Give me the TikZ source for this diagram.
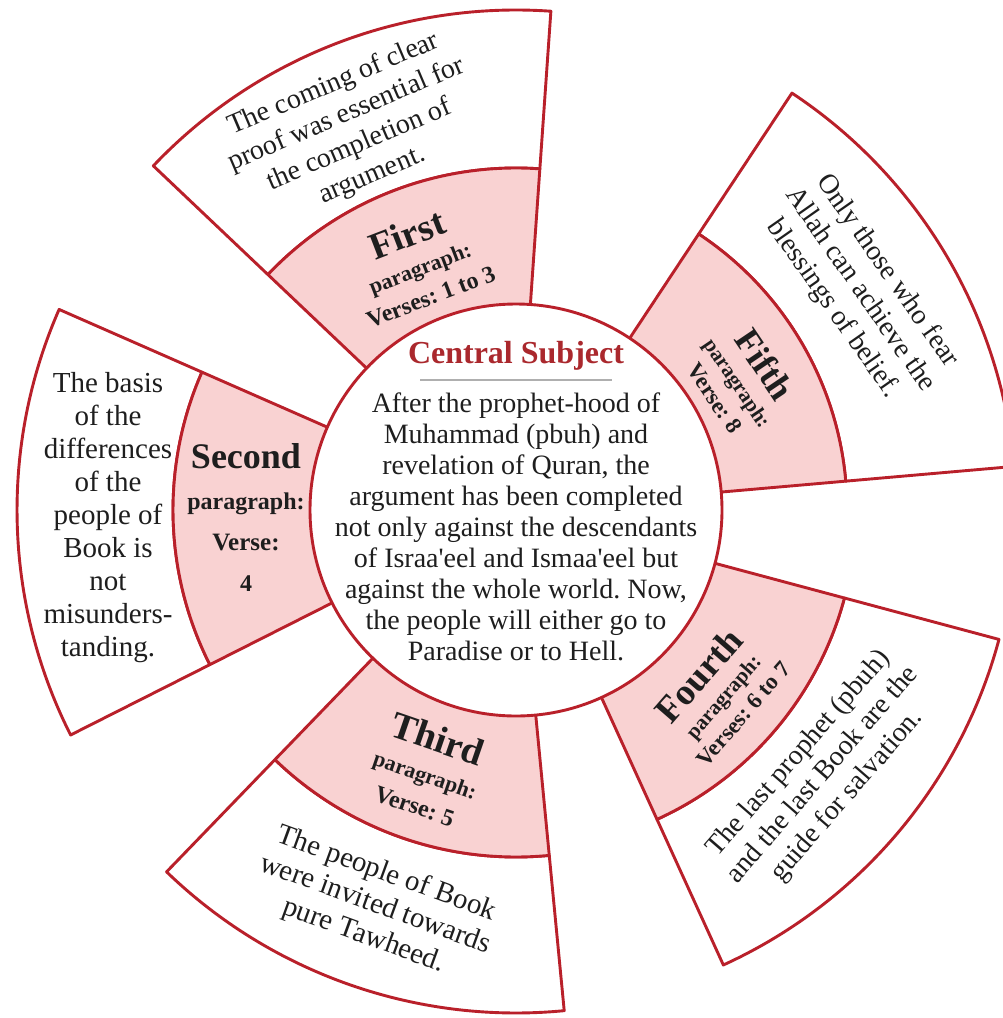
\documentclass[tikz,border=0pt]{standalone}
\usepackage{fontspec}
\setmainfont{Liberation Serif}
\newcommand\fsz[2]{\fontsize{#1}{#2}\selectfont}
\definecolor{lred}{RGB}{185,32,42}
\definecolor{pinkf}{RGB}{249,210,210}
\definecolor{tred}{RGB}{170,40,45}
\definecolor{txt}{RGB}{30,30,30}
\definecolor{rulegray}{RGB}{175,175,175}
\frenchspacing
\begin{document}
\begin{tikzpicture}[x=1pt,y=1pt,line join=round,
  secline/.style={draw=lred,line width=2.9pt},
  pinksec/.style={secline,fill=pinkf},
  whitesec/.style={secline,fill=white},
  outtxt/.style={align=center,text=txt,font=\fsz{28}{31},inner sep=0pt},
  lbltxt/.style={align=center,text=txt,inner sep=0pt},
]
\useasboundingbox (0,0) rectangle (1002,-1018);
\fill[white] (0,0) rectangle (1002,-1018);
\begin{scope}[shift={(516,-510)}]
\foreach \a/\b/\m/\o in {5/56.5/331/500, 86/136.5/342/500, 156.3/206.8/343/499, 226/275.5/347/503, 294.5/345/340/500}{
  \filldraw[whitesec] (\a:\m) -- (\a:\o) arc[start angle=\a,end angle=\b,radius=\o] -- (\b:\m) arc[start angle=\b,end angle=\a,radius=\m] -- cycle;
  \filldraw[pinksec] (\a:190) -- (\a:\m) arc[start angle=\a,end angle=\b,radius=\m] -- (\b:190) arc[start angle=\b,end angle=\a,radius=190] -- cycle;
}
\filldraw[whitesec] (0,0) circle[radius=206];
% central subject
\node[text=tred,font=\bfseries\fsz{32}{34},inner sep=0pt] (title) at (0,154) {Central Subject};
\draw[rulegray,line width=1.2pt] (-96,130) -- (96,130);
\node[outtxt] (body) at (0,-17) {After the prophet-hood of\\ Muhammad (pbuh) and\\ revelation of Quran, the\\ argument has been completed\\ not only against the descendants\\ of Israa\textquotesingle eel and Ismaa\textquotesingle eel but\\ against the whole world. Now,\\ the people will either go to\\ Paradise or to Hell.};
% pink labels
\node[lbltxt,rotate=21,font=\bfseries\fsz{22}{31}] (p1) at (-98,247) {{\fsz{38}{31}First}\\ paragraph:\\ {\fsz{24}{31}Verses: 1 to 3}};
\node[lbltxt,rotate=-56,font=\bfseries\fsz{21}{28}] (p5) at (226,130) {{\fsz{36}{28}Fifth}\\ paragraph:\\ {\fsz{23}{28}Verse: 8}};
\node[lbltxt,font=\bfseries\fsz{24}{41}] (p2) at (-270,-8) {{\fsz{36}{41}Second}\\ paragraph:\\ {\fsz{25}{41}Verse:}\\ 4};
\node[lbltxt,rotate=-19,font=\bfseries\fsz{22}{33}] (p3) at (-89,-260) {{\fsz{38}{33}Third}\\ paragraph:\\ {\fsz{24}{33}Verse: 5}};
\node[lbltxt,rotate=49,font=\bfseries\fsz{21}{27}] (p4) at (203,-183) {{\fsz{37}{27}Fourth}\\ paragraph:\\ {\fsz{23}{27}Verses: 6 to 7}};
% outer texts
\node[outtxt,rotate=23,font=\fsz{28}{33}] (o1) at (-163,380) {The coming of clear\\ proof was essential for\\ the completion of\\ argument.};
\node[outtxt,rotate=-55,font=\fsz{28}{33}] (o5) at (344,220) {Only those who fear\\ Allah can achieve the\\ blessings of belief.};
\node[outtxt,font=\fsz{29}{33}] (o2) at (-408,-8) {The basis\\ of the\\ differences\\ of the\\ people of\\ Book is\\ not\\ misunders-\\ tanding.};
\node[outtxt,rotate=-20,font=\fsz{29}{33}] (o3) at (-141,-395) {The people of Book\\ were invited towards\\ pure Tawheed.};
\node[outtxt,rotate=49,font=\fsz{28}{32}] (o4) at (307,-265) {The last prophet (pbuh)\\ and the last Book are the\\ guide for salvation.};
\end{scope}
\end{tikzpicture}
\end{document}
